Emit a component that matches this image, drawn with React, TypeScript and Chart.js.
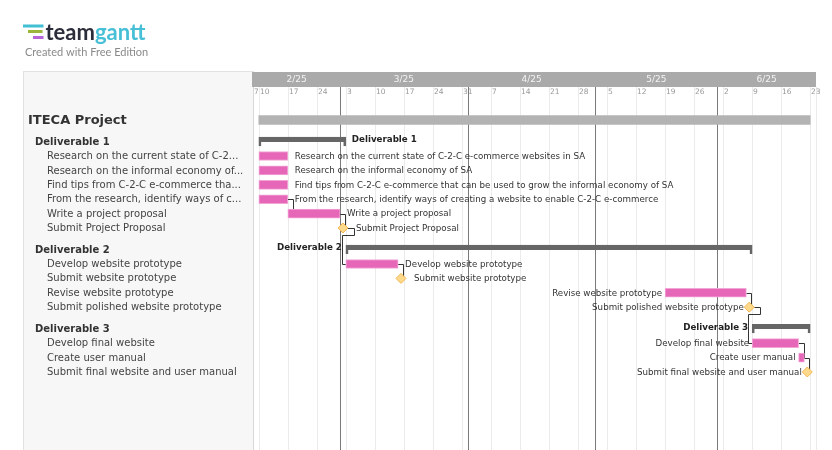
import React, { useEffect, useRef } from 'react';
import { Chart, registerables } from 'chart.js';

Chart.register(...registerables);

// ---------- data ----------
const rowNames = [
  'ITECA Project',
  'Deliverable 1',
  'Research on the current state of C-2-C e-commerce websites in SA',
  'Research on the informal economy of SA',
  'Find tips from C-2-C e-commerce that can be used to grow the informal economy of SA',
  'From the research, identify ways of creating a website to enable C-2-C e-commerce',
  'Write a project proposal',
  'Submit Project Proposal',
  'Deliverable 2',
  'Develop website prototype',
  'Submit website prototype',
  'Revise website prototype',
  'Submit polished website prototype',
  'Deliverable 3',
  'Develop final website',
  'Create user manual',
  'Submit final website and user manual',
];
const rowKinds = [
  'project', 'group', 'task', 'task', 'task', 'task', 'task', 'milestone',
  'group', 'task', 'milestone', 'task', 'milestone',
  'group', 'task', 'task', 'milestone',
];
const rowStarts = [
  '2025-02-10', '2025-02-10', '2025-02-10', '2025-02-10', '2025-02-10', '2025-02-10', '2025-02-17', '2025-02-28',
  '2025-03-03', '2025-03-03', '2025-03-14', '2025-05-19', '2025-06-06',
  '2025-06-09', '2025-06-09', '2025-06-19', '2025-06-20',
];
const rowEnds = [
  '2025-06-20', '2025-02-28', '2025-02-14', '2025-02-14', '2025-02-14', '2025-02-14', '2025-02-27', '2025-02-28',
  '2025-06-06', '2025-03-13', '2025-03-14', '2025-06-05', '2025-06-06',
  '2025-06-20', '2025-06-18', '2025-06-19', '2025-06-20',
];
// [predecessor row, successor row]
const dependencies: [number, number][] = [
  [5, 6], [6, 7], [7, 9], [9, 10], [11, 12], [12, 14], [14, 15], [15, 16],
];
const viewStart = '2025-02-07';
const viewEnd = '2025-06-23';
const monthLabels = ['2/25', '3/25', '4/25', '5/25', '6/25'];
const monthBoundaries = ['2025-03-01', '2025-04-01', '2025-05-01', '2025-06-01'];

// ---------- helpers ----------
const DAY = 86400000;
const BASE = Date.UTC(2025, 1, 10); // a Monday
function parse(s: string) {
  const [y, m, d] = s.split('-').map(Number);
  return Date.UTC(y, m - 1, d);
}
// working-day index (weekends collapse onto the preceding Friday)
function wd(s: string): number {
  let t = parse(s);
  const dow = new Date(t).getUTCDay();
  if (dow === 6) t -= DAY;
  if (dow === 0) t -= 2 * DAY;
  const days = Math.round((t - BASE) / DAY);
  const weeks = Math.floor(days / 7);
  return weeks * 5 + (days - weeks * 7);
}
function mondaysInView(): string[] {
  const out: string[] = [];
  let t = parse(viewStart);
  const end = parse(viewEnd);
  while (t <= end) {
    if (new Date(t).getUTCDay() === 1) out.push(new Date(t).toISOString().slice(0, 10));
    t += DAY;
  }
  return out;
}

const slots: number[] = [];
rowKinds.forEach((k, i) => {
  if (i === 0) slots.push(0);
  else slots.push(slots[i - 1] + 1 + (k === 'group' ? 0.5 : 0));
});

const FONT = '"DejaVu Sans", sans-serif';

function barData(kind: string) {
  const out: any[] = [];
  rowKinds.forEach((k, i) => {
    if (k === kind) out.push({ x: [wd(rowStarts[i]), wd(rowEnds[i]) + 1], y: slots[i], row: i });
  });
  return out;
}
function milestoneData() {
  const out: any[] = [];
  rowKinds.forEach((k, i) => {
    if (k === 'milestone') out.push({ x: wd(rowStarts[i]) + 0.5, y: slots[i], row: i });
  });
  return out;
}

const ganttPlugin = {
  id: 'gantt',
  beforeDraw(chart: any) {
    const { ctx, chartArea, scales } = chart;
    const xs = scales.x;
    const ys = scales.y;
    const W = chart.width;
    const H = chart.height;
    ctx.save();
    ctx.fillStyle = '#ffffff';
    ctx.fillRect(0, 0, W, H);

    // logo
    ctx.fillStyle = '#43bfd3';
    ctx.fillRect(23, 24.5, 20.5, 3);
    ctx.fillStyle = '#9bb43a';
    ctx.fillRect(28, 30, 14.5, 3);
    ctx.fillStyle = '#b664d8';
    ctx.fillRect(33, 36, 10.5, 3);
    ctx.textBaseline = 'alphabetic';
    ctx.textAlign = 'left';
    ctx.font = 'bold 22px Lato, sans-serif';
    ctx.fillStyle = '#2b2d3b';
    ctx.fillText('team', 45.5, 40);
    const tw = ctx.measureText('team').width;
    ctx.fillStyle = '#47bfd6';
    ctx.fillText('gantt', 45.5 + tw, 40);
    ctx.font = '11px Lato, sans-serif';
    ctx.fillStyle = '#8a8a8a';
    ctx.fillText('Created with Free Edition', 25, 55.5);

    // left panel
    const panelTop = chartArea.top - 26;
    ctx.fillStyle = '#f7f7f7';
    ctx.fillRect(23, panelTop, chartArea.left - 23, H - panelTop);
    ctx.strokeStyle = '#e2e2e2';
    ctx.lineWidth = 1;
    ctx.strokeRect(23.5, panelTop + 0.5, chartArea.left - 23, H - panelTop + 2);

    // left panel names
    ctx.textBaseline = 'middle';
    rowNames.forEach((name, i) => {
      const y = ys.getPixelForValue(slots[i]);
      const k = rowKinds[i];
      let x = 47;
      if (k === 'project') {
        ctx.font = 'bold 13px ' + FONT;
        ctx.fillStyle = '#333333';
        x = 28;
      } else if (k === 'group') {
        ctx.font = 'bold 10px ' + FONT;
        ctx.fillStyle = '#333333';
        x = 35;
      } else {
        ctx.font = '10px ' + FONT;
        ctx.fillStyle = '#444444';
      }
      const maxW = chartArea.left - 9 - x;
      let text = name;
      if (ctx.measureText(text).width > maxW) {
        let n = name.length;
        while (n > 0 && ctx.measureText(name.slice(0, n) + '...').width > maxW) n--;
        text = name.slice(0, n).replace(/[\s-]+$/, '') + '...';
      }
      ctx.fillText(text, x, y + 0.5);
    });

    // header
    const hTop = chartArea.top - 25;
    const hBot = chartArea.top - 10;
    ctx.fillStyle = '#aaaaaa';
    ctx.fillRect(chartArea.left - 1, hTop, chartArea.right - chartArea.left + 1, hBot - hTop);
    const bounds = [xs.getPixelForValue(wd(viewStart))]
      .concat(monthBoundaries.map((d) => xs.getPixelForValue(wd(d))))
      .concat([xs.getPixelForValue(wd(viewEnd) + 1)]);
    ctx.font = '9px ' + FONT;
    ctx.fillStyle = '#f4f4f4';
    ctx.textAlign = 'center';
    monthLabels.forEach((lab, i) => {
      ctx.fillText(lab, (bounds[i] + bounds[i + 1]) / 2, (hTop + hBot) / 2 + 0.5);
    });

    // grid: week lines
    const gridTop = hBot;
    const weekDates = [viewStart].concat(mondaysInView());
    ctx.strokeStyle = '#ebebeb';
    weekDates.forEach((d) => {
      const x = Math.round(xs.getPixelForValue(wd(d))) + 0.5;
      ctx.beginPath();
      ctx.moveTo(x, gridTop);
      ctx.lineTo(x, H);
      ctx.stroke();
    });
    const xr = Math.round(chartArea.right) + 0.5;
    ctx.beginPath();
    ctx.moveTo(xr, gridTop);
    ctx.lineTo(xr, H);
    ctx.stroke();
    // left edge
    ctx.strokeStyle = '#d8d8d8';
    const xl = Math.round(chartArea.left) + 0.5;
    ctx.beginPath();
    ctx.moveTo(xl, gridTop);
    ctx.lineTo(xl, H);
    ctx.stroke();

    // week day numbers
    ctx.font = '7.5px ' + FONT;
    ctx.fillStyle = '#9a9a9a';
    ctx.textAlign = 'left';
    weekDates.forEach((d) => {
      const x = Math.round(xs.getPixelForValue(wd(d))) + 1;
      ctx.fillText(String(new Date(parse(d)).getUTCDate()), x, gridTop + 5);
    });

    // month lines
    ctx.strokeStyle = '#7a7a7a';
    monthBoundaries.forEach((d) => {
      const x = Math.round(xs.getPixelForValue(wd(d))) + 0.5;
      ctx.beginPath();
      ctx.moveTo(x, gridTop);
      ctx.lineTo(x, H);
      ctx.stroke();
    });
    ctx.restore();
  },
  beforeDatasetsDraw(chart: any) {
    const { ctx, scales } = chart;
    const xs = scales.x;
    const ys = scales.y;
    ctx.save();
    ctx.strokeStyle = '#333333';
    ctx.lineWidth = 1;
    const px = (v: number) => Math.round(v) + 0.5;
    dependencies.forEach(([p, s]) => {
      const yp = ys.getPixelForValue(slots[p]);
      const yS = ys.getPixelForValue(slots[s]);
      const predMs = rowKinds[p] === 'milestone';
      const xR = predMs
        ? xs.getPixelForValue(wd(rowStarts[p]) + 0.5) + 5
        : xs.getPixelForValue(wd(rowEnds[p]) + 1);
      const xS = rowKinds[s] === 'milestone'
        ? xs.getPixelForValue(wd(rowStarts[s]) + 0.5)
        : xs.getPixelForValue(wd(rowStarts[s]));
      ctx.beginPath();
      if (predMs) {
        const mid = yp + 7;
        ctx.moveTo(xR, px(yp));
        ctx.lineTo(px(xR + 6), px(yp));
        ctx.lineTo(px(xR + 6), px(mid));
        ctx.lineTo(px(xS - 4), px(mid));
        ctx.lineTo(px(xS - 4), px(yS));
        ctx.lineTo(xS, px(yS));
      } else {
        ctx.moveTo(xR, px(yp));
        ctx.lineTo(px(xR + 5), px(yp));
        ctx.lineTo(px(xR + 5), px(yS));
      }
      ctx.stroke();
    });
    ctx.restore();
  },
  afterDatasetsDraw(chart: any) {
    const { ctx, scales, chartArea } = chart;
    const xs = scales.x;
    const ys = scales.y;
    ctx.save();
    ctx.textBaseline = 'middle';
    rowNames.forEach((name, i) => {
      const k = rowKinds[i];
      if (k === 'project') return;
      const y = ys.getPixelForValue(slots[i]);
      ctx.font = (k === 'group' ? 'bold ' : '') + '8.7px ' + FONT;
      ctx.fillStyle = k === 'group' ? '#222222' : '#333333';
      const w = ctx.measureText(name).width;
      let rx: number;
      let lx: number;
      let ty = y + 0.5;
      if (k === 'milestone') {
        const c = xs.getPixelForValue(wd(rowStarts[i]) + 0.5);
        rx = c + 13;
        lx = c - 5.5;
      } else {
        const a = xs.getPixelForValue(wd(rowStarts[i]));
        const b = xs.getPixelForValue(wd(rowEnds[i]) + 1);
        rx = b + (k === 'group' ? 6 : 7);
        lx = a - (k === 'group' ? 4 : 3);
        if (k === 'group') ty = y - 1.5;
      }
      if (rx + w <= chartArea.right) {
        ctx.textAlign = 'left';
        ctx.fillText(name, rx, ty);
      } else {
        ctx.textAlign = 'right';
        ctx.fillText(name, lx, ty);
      }
    });
    ctx.restore();
  },
};

export default function App() {
  const ref = useRef<HTMLCanvasElement>(null);
  useEffect(() => {
    if (!ref.current) return;
    const chart = new Chart(ref.current, {
      type: 'bar',
      data: {
        datasets: [
          {
            type: 'bar',
            data: barData('project'),
            backgroundColor: '#b3b3b3',
            barThickness: 9,
            grouped: false,
          } as any,
          {
            type: 'bar',
            data: barData('group'),
            backgroundColor: 'rgba(0,0,0,0)',
            borderColor: '#666666',
            borderWidth: { top: 4.5, left: 2, right: 2, bottom: 0 },
            borderSkipped: false,
            barThickness: 9,
            grouped: false,
          } as any,
          {
            type: 'bar',
            data: barData('task'),
            backgroundColor: '#e667b8',
            borderColor: '#f3a6d6',
            borderWidth: 1,
            borderSkipped: false,
            barThickness: 9,
            grouped: false,
          } as any,
          {
            type: 'scatter',
            data: milestoneData(),
            pointStyle: 'rectRot',
            pointRadius: 5,
            backgroundColor: '#fdd98b',
            borderColor: '#f4b654',
            borderWidth: 1,
          } as any,
        ],
      },
      options: {
        indexAxis: 'y',
        animation: false,
        responsive: false,
        events: [],
        layout: { autoPadding: false, padding: { left: 253, right: 16, top: 97, bottom: 0 } },
        scales: {
          x: { type: 'linear', min: wd(viewStart), max: wd(viewEnd) + 1, display: false, offset: false },
          y: { type: 'linear', reverse: true, min: -1.6, max: 22.92, display: false, offset: false },
        },
        plugins: { legend: { display: false }, tooltip: { enabled: false } },
      } as any,
      plugins: [ganttPlugin],
    });
    return () => chart.destroy();
  }, []);
  return (
    <div style={{ position: 'fixed', left: 0, top: 0, width: 832, height: 450 }}>
      <canvas ref={ref} width={832} height={450} style={{ display: 'block' }} />
    </div>
  );
}
